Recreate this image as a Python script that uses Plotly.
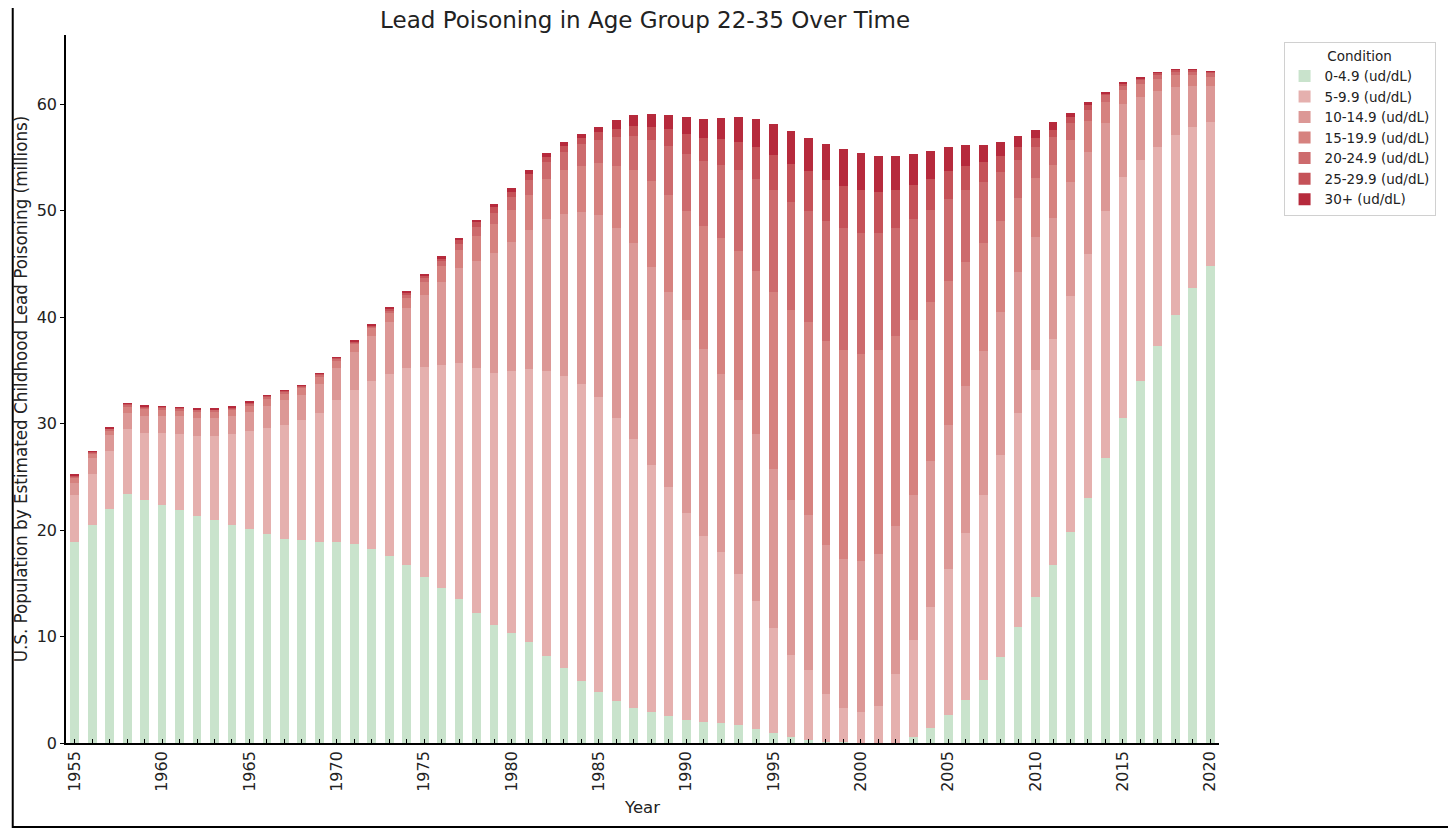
import plotly.graph_objects as go

# YEARS 1955-2020 #
years = list(range(1955, 2021))

# SEGMENT VALUES (MILLIONS), ONE LIST PER BLOOD LEAD GROUP #
lvl_0_5 = [18.9, 20.45, 22.0, 23.4, 22.8, 22.4, 21.9, 21.3, 20.9, 20.5, 20.1, 19.6, 19.15, 19.1, 18.9, 18.9,
           18.7, 18.25, 17.6, 16.7, 15.6, 14.6, 13.5, 12.2, 11.05, 10.3, 9.5, 8.2, 7.0, 5.85, 4.8, 3.9,
           3.3, 2.9, 2.55, 2.2, 2.0, 1.9, 1.65, 1.3, 0.9, 0.6, 0.3, 0.1, 0.05, 0.0, 0.0, 0.0,
           0.6, 1.4, 2.6, 4.05, 5.9, 8.1, 10.9, 13.7, 16.7, 19.8, 23.0, 26.8, 30.5, 34.0, 37.3, 40.2,
           42.7, 44.8]
lvl_5_10 = [4.4, 4.85, 5.4, 6.1, 6.3, 6.7, 7.1, 7.55, 7.9, 8.5, 9.2, 10.0, 10.75, 11.2, 12.1, 13.3,
            14.5, 15.75, 17.1, 18.5, 19.7, 20.9, 22.2, 23.0, 23.75, 24.6, 25.6, 26.7, 27.5, 27.85, 27.7, 26.6,
            25.3, 23.2, 21.45, 19.4, 17.4, 16.0, 14.25, 12.05, 9.9, 7.65, 6.6, 4.5, 3.25, 2.95, 3.5, 6.5,
            9.1, 11.4, 13.7, 15.7, 17.4, 18.95, 20.1, 21.3, 21.2, 22.2, 22.9, 23.2, 22.7, 20.8, 18.7, 16.9,
            15.2, 13.5]
lvl_10_15 = [1.1, 1.5, 1.5, 1.5, 1.65, 1.65, 1.7, 1.7, 1.7, 1.7, 1.8, 2.1, 2.3, 2.4, 2.75, 3.0,
             3.5, 4.2, 4.8, 5.7, 6.75, 7.8, 8.9, 10.1, 11.2, 12.15, 13.1, 14.3, 15.2, 16.2, 17.05, 17.9,
             18.4, 18.6, 18.4, 18.15, 17.6, 16.8, 16.3, 15.65, 14.9, 14.55, 14.5, 14.0, 13.95, 14.1, 14.25, 13.9,
             13.6, 13.65, 13.6, 13.75, 13.5, 13.45, 13.2, 12.5, 11.4, 10.7, 9.6, 8.2, 6.8, 5.9, 5.2, 4.5,
             3.8, 3.4]
lvl_15_20 = [0.5, 0.4, 0.45, 0.6, 0.6, 0.6, 0.55, 0.6, 0.65, 0.6, 0.6, 0.6, 0.65, 0.65, 0.7, 0.7,
             0.75, 0.75, 0.9, 0.9, 1.25, 1.5, 1.7, 2.3, 2.75, 3.05, 3.3, 3.8, 4.1, 4.3, 4.95, 5.8,
             6.85, 8.1, 9.1, 10.25, 11.55, 12.7, 14.0, 15.3, 16.7, 17.9, 18.15, 19.2, 19.65, 19.45, 19.15, 17.8,
             16.4, 15.0, 13.5, 11.7, 10.2, 8.5, 7.0, 5.6, 5.0, 3.9, 2.9, 2.0, 1.3, 1.2, 1.2, 1.1,
             1.0, 0.9]
lvl_20_25 = [0.15, 0.1, 0.15, 0.15, 0.2, 0.15, 0.15, 0.15, 0.15, 0.15, 0.2, 0.2, 0.15, 0.15, 0.15, 0.2,
             0.2, 0.2, 0.25, 0.3, 0.4, 0.5, 0.6, 0.9, 1.05, 1.2, 1.4, 1.55, 1.75, 2.05, 2.1, 2.7,
             3.15, 3.85, 4.55, 5.3, 6.15, 6.9, 7.6, 8.7, 9.5, 10.1, 10.45, 11.2, 11.45, 11.4, 11.0, 10.2,
             9.5, 8.65, 7.7, 6.7, 5.7, 4.6, 3.6, 2.9, 2.6, 1.6, 1.1, 0.65, 0.45, 0.4, 0.4, 0.4,
             0.4, 0.35]
lvl_25_30 = [0.1, 0.07, 0.07, 0.1, 0.1, 0.1, 0.07, 0.07, 0.07, 0.1, 0.1, 0.1, 0.07, 0.07, 0.1, 0.1,
             0.1, 0.1, 0.15, 0.2, 0.2, 0.25, 0.35, 0.4, 0.5, 0.5, 0.55, 0.5, 0.55, 0.6, 0.8, 0.8,
             1.0, 1.25, 1.6, 1.9, 2.15, 2.4, 2.65, 3.0, 3.3, 3.6, 3.7, 3.9, 3.95, 4.0, 3.85, 3.55,
             3.25, 2.9, 2.6, 2.3, 1.9, 1.5, 1.2, 0.8, 0.65, 0.6, 0.4, 0.2, 0.15, 0.15, 0.15, 0.15,
             0.15, 0.1]
lvl_30_up = [0.05, 0.03, 0.03, 0.05, 0.05, 0.05, 0.03, 0.03, 0.03, 0.05, 0.05, 0.05, 0.03, 0.03, 0.05, 0.05,
             0.05, 0.05, 0.1, 0.1, 0.1, 0.15, 0.2, 0.25, 0.3, 0.35, 0.35, 0.35, 0.35, 0.35, 0.5, 0.8,
             1.0, 1.2, 1.35, 1.6, 1.8, 2.05, 2.35, 2.6, 2.95, 3.1, 3.15, 3.35, 3.5, 3.5, 3.4, 3.2,
             2.9, 2.65, 2.3, 1.95, 1.6, 1.35, 1.0, 0.8, 0.75, 0.4, 0.3, 0.1, 0.1, 0.05, 0.05, 0.05,
             0.05, 0.05]

labels = ["0-4.9 (ud/dL)", "5-9.9 (ud/dL)", "10-14.9 (ud/dL)", "15-19.9 (ud/dL)",
          "20-24.9 (ud/dL)", "25-29.9 (ud/dL)", "30+ (ud/dL)"]
series = [lvl_0_5, lvl_5_10, lvl_10_15, lvl_15_20, lvl_20_25, lvl_25_30, lvl_30_up]
colors = ["#c9e3cc", "#e5b0ae", "#dc9896", "#d6827f", "#cd6b6d", "#c55258", "#b62a3c"]

# BUILD STACKED BARS #
fig = go.Figure()
for name, vals, col in zip(labels, series, colors):
    fig.add_trace(go.Bar(x=years, y=vals, name=name, marker_color=col,
                         marker_line_width=0, width=0.5))

tick_text = [str(y) if y % 5 == 0 else "" for y in years]

# PAGE BODY HAS AN 8PX MARGIN, SO FIGURE IS SIZED/OFFSET FOR IT #
fig.update_layout(
    barmode="stack",
    width=1448, height=820,
    margin=dict(l=54, r=237, t=27, b=85),
    plot_bgcolor="white", paper_bgcolor="white",
    font=dict(family="DejaVu Sans", color="#222222"),
    title=dict(text="Lead Poisoning in Age Group 22-35 Over Time", x=0.44, xanchor="center",
               y=0.985, yanchor="middle", font=dict(size=23, color="#222222")),
    legend=dict(title=dict(text="Condition", side="top center", font=dict(size=13.5)),
                x=1.056, y=0.99, xanchor="left", yanchor="top", traceorder="normal",
                bordercolor="#d0d0d0", borderwidth=1, font=dict(size=13.5),
                itemsizing="constant", tracegroupgap=0),
    bargap=0,
)
fig.update_xaxes(
    range=[1954.5, 2020.5], tickvals=years, ticktext=tick_text, tickangle=-90,
    ticks="inside", ticklen=4, tickcolor="black", tickfont=dict(size=16, color="#222222"),
    showline=True, linecolor="black", linewidth=1.5, showgrid=False, zeroline=False,
    title=dict(text="Year", font=dict(size=16.5), standoff=11),
)
fig.update_yaxes(
    range=[0, 66.5], tickvals=[0, 10, 20, 30, 40, 50, 60],
    ticks="outside", ticklen=4, tickcolor="black", tickfont=dict(size=16, color="#222222"),
    showline=True, linecolor="black", linewidth=1.5, showgrid=False, zeroline=False,
    title=dict(text="U.S. Population by Estimated Childhood Lead Poisoning (millions)",
               font=dict(size=16.8), standoff=5),
)

# FRAME LINES ON LEFT AND BOTTOM OF THE IMAGE #
fig.add_shape(type="line", xref="paper", yref="paper", x0=-0.0462, x1=-0.0462, y0=-0.12, y1=1.04,
              line=dict(color="black", width=2))
fig.add_shape(type="line", xref="paper", yref="paper", x0=-0.0467, x1=1.205, y0=-0.1186, y1=-0.1186,
              line=dict(color="black", width=2))

fig.write_html("out.html")
